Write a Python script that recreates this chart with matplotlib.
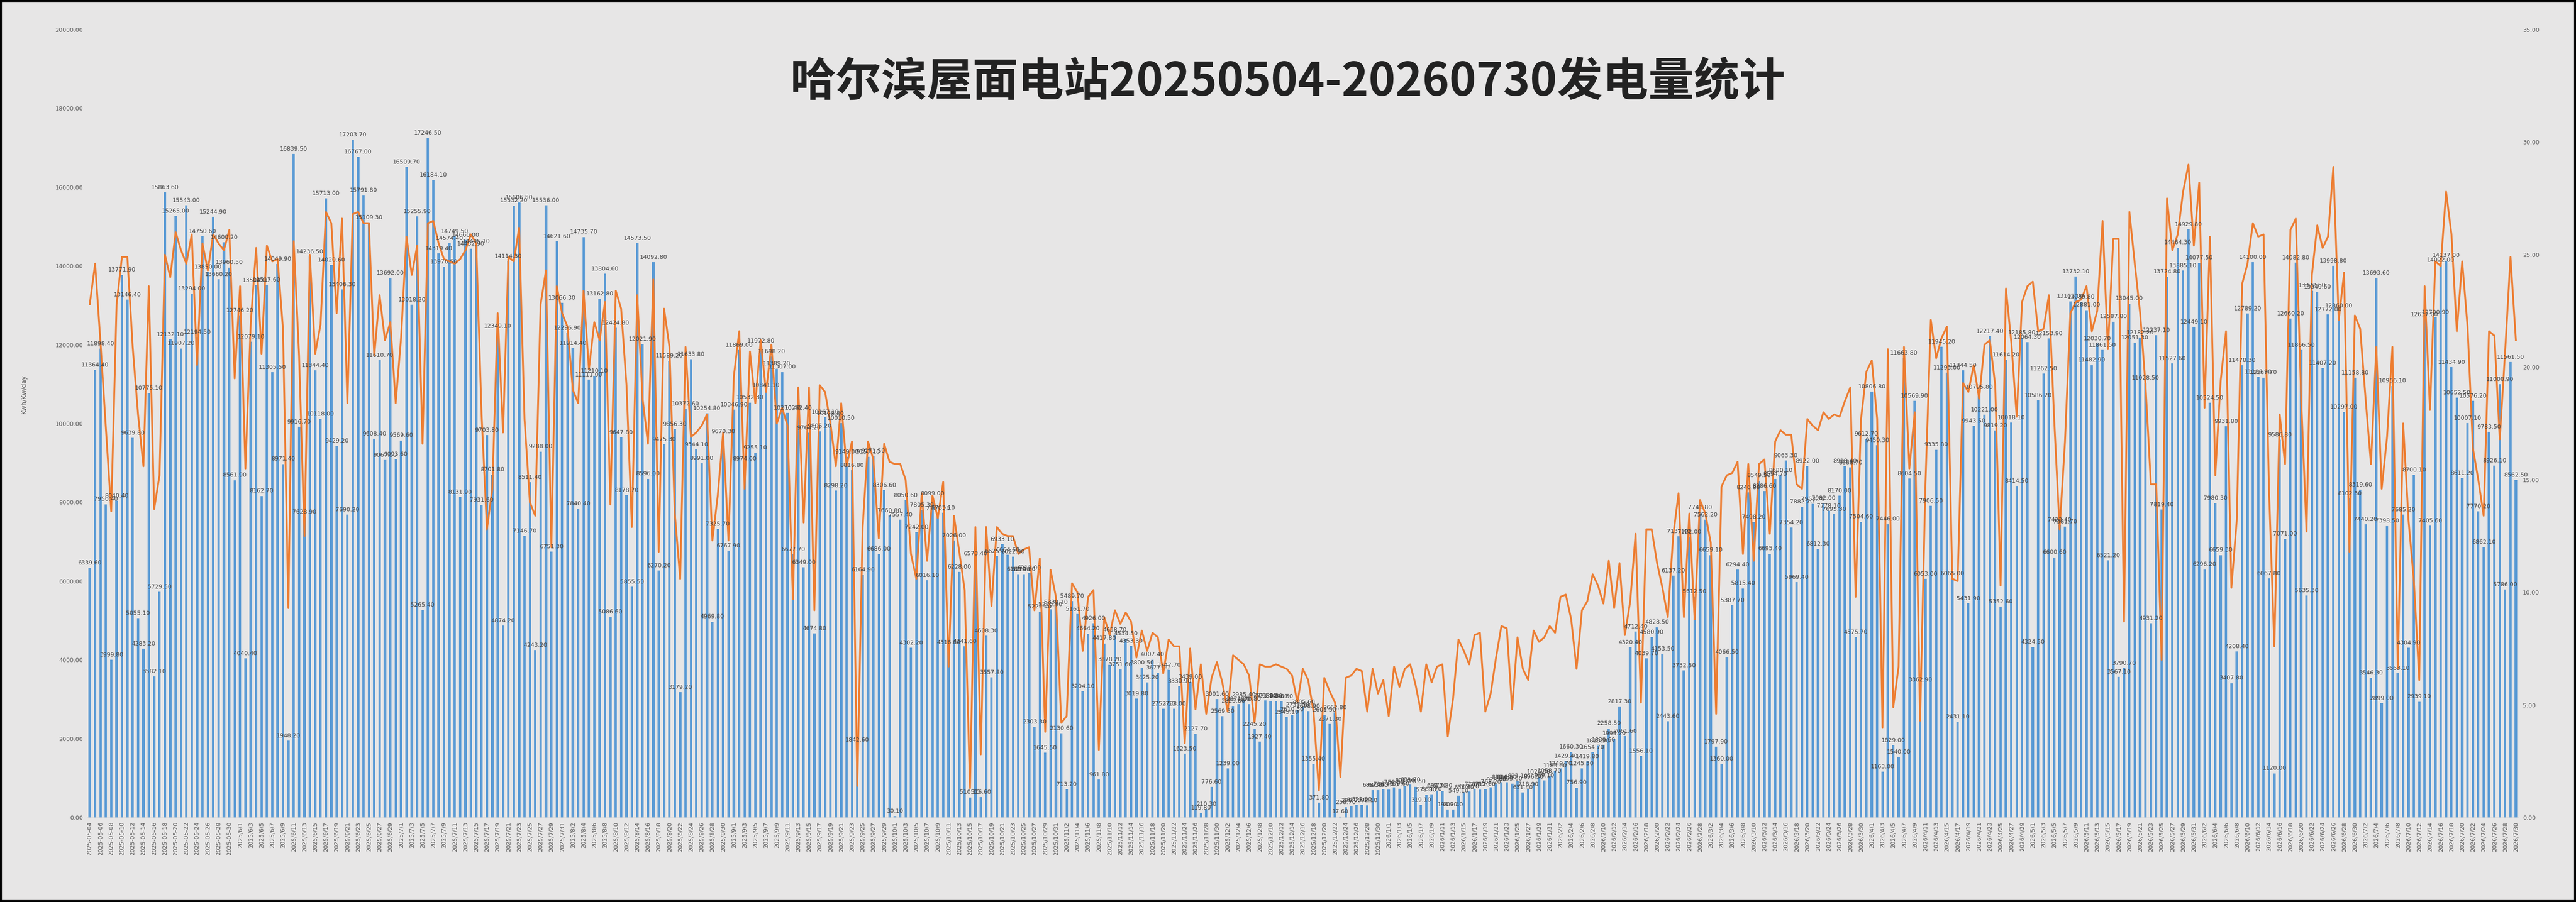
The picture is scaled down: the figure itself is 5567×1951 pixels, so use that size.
import matplotlib
matplotlib.use("Agg")
import matplotlib.pyplot as plt
import pandas as pd
from matplotlib.patches import Rectangle

plt.rcParams["font.family"] = ["DejaVu Sans"]

TITLE = "哈尔滨屋面电站20250504-20260730发电量统计"
Y_LABEL = "Kwh/Kw/day"
START_DATE = "2025-05-04"

# daily generation (bars, left axis)
kwh = [
    6339.6, 11364.4, 11898.4, 7950.4, 3999.8, 8040.4, 13771.9, 13146.4, 9639.8, 5055.1,
    4283.2, 10775.1, 3582.1, 5729.5, 15863.6, 12132.1, 15265.0, 11907.2, 15543.0, 13294.0,
    12194.5, 14750.6, 13850.0, 15244.9, 13660.2, 14600.2, 13960.5, 8561.9, 12746.2, 4040.4,
    12079.1, 13504.0, 8162.7, 13517.6, 11305.5, 14049.9, 8971.4, 1948.2, 16839.5, 9916.7,
    7628.9, 14236.5, 11344.4, 10118.0, 15713.0, 14020.6, 9429.2, 13406.3, 7690.2, 17203.7,
    16767.0, 15791.8, 15109.3, 9608.4, 11610.7, 9067.5, 13692.0, 9093.6, 9569.6, 16509.7,
    13018.2, 15255.9, 5265.4, 17246.5, 16184.1, 14319.4, 13976.5, 14574.4, 14749.5, 8131.9,
    14660.0, 14432.9, 14495.1, 7931.6, 9703.8, 8701.8, 12349.1, 4874.2, 14114.3, 15532.2,
    15606.5, 7146.7, 8511.4, 4243.2, 9288.0, 15536.0, 6751.3, 14621.6, 13066.3, 12296.9,
    11914.4, 7840.4, 14735.7, 11111.0, 11210.1, 13162.8, 13804.6, 5086.6, 12424.8, 9647.8,
    8178.7, 5855.5, 14573.5, 12021.9, 8596.0, 14092.8, 6270.2, 9475.3, 11589.2, 9856.3,
    3179.2, 10372.6, 11633.8, 9344.1, 8991.0, 10254.8, 4969.8, 7325.7, 9670.3, 6767.9,
    10346.9, 11869.0, 8974.0, 10532.3, 9255.1, 11972.8, 10841.1, 11698.2, 11389.2, 11307.0,
    10270.4, 6677.7, 10262.4, 6349.0, 9764.2, 4674.8, 9805.2, 10167.1, 10128.8, 8298.2,
    10010.5, 9149.0, 8816.8, 1842.6, 6164.9, 9157.1, 9171.5, 6686.0, 8306.6, 7660.8,
    30.1, 7557.4, 8050.6, 4302.2, 7242.0, 7805.3, 6016.1, 8099.0, 7705.2, 7735.1,
    4316.8, 7026.0, 6228.0, 4341.6, 510.1, 6573.4, 516.6, 4608.3, 3557.8, 6625.7,
    6933.1, 6664.6, 6622.9, 6168.4, 6170.6, 6211.0, 2303.3, 5222.4, 1645.5, 5275.9,
    5339.1, 2130.6, 713.2, 5489.7, 5161.7, 3204.1, 4664.2, 4926.0, 961.8, 4417.8,
    3878.2, 4638.7, 3751.6, 4534.5, 4353.3, 3019.8, 3800.5, 3425.2, 4007.4, 3677.0,
    2753.5, 3747.7, 2758.0, 3330.9, 1623.5, 3439.0, 2127.7, 119.8, 210.3, 776.6,
    3001.6, 2569.5, 1239.0, 2825.8, 2874.3, 2985.4, 2870.8, 2245.2, 1927.4, 2972.0,
    2958.3, 2942.0, 2946.6, 2545.1, 2610.3, 2737.5, 2805.6, 2698.9, 1355.4, 371.8,
    2601.5, 2371.3, 2662.8, 17.6, 258.7, 298.0, 320.6, 322.0, 302.1, 688.3,
    693.6, 716.4, 701.4, 758.2, 730.6, 803.5, 831.7, 779.6, 319.1, 571.8,
    589.7, 680.7, 673.8, 194.9, 202.4, 549.1, 633.4, 659.2, 718.0, 702.7,
    712.0, 768.2, 828.4, 888.0, 886.3, 855.6, 923.1, 631.4, 718.9, 896.3,
    1026.3, 939.1, 1058.7, 1183.0, 1240.7, 1429.4, 1660.3, 756.9, 1245.5, 1419.8,
    1654.7, 1813.9, 1839.6, 2258.5, 1999.2, 2817.3, 2061.6, 4320.4, 4712.4, 1556.1,
    4039.7, 4580.9, 4828.5, 4153.5, 2443.6, 6137.2, 7137.4, 3732.5, 7122.0, 5612.5,
    7741.8, 7562.2, 6659.1, 1797.9, 1360.0, 4066.5, 5387.7, 6294.4, 5815.4, 8246.8,
    7498.2, 8549.5, 8286.6, 6695.4, 8594.7, 8680.1, 9063.3, 7354.2, 5969.4, 7882.7,
    8922.0, 7953.7, 6812.3, 7982.0, 7778.1, 7695.3, 8170.0, 8918.4, 8888.7, 4575.7,
    7504.6, 9612.7, 10806.8, 9450.3, 1163.0, 7446.0, 1829.0, 1540.0, 11663.8, 8604.5,
    10569.9, 3362.9, 6053.0, 7906.5, 9335.8, 11945.2, 11293.0, 6065.0, 2431.1, 11344.5,
    5431.9, 9943.5, 10795.8, 10221.0, 12217.4, 9819.2, 5352.6, 11614.2, 10018.1, 8414.5,
    12185.8, 12064.3, 4324.5, 10586.2, 11262.5, 12153.9, 6600.6, 7423.4, 7381.7, 13103.0,
    13732.1, 13089.8, 12881.0, 11482.9, 12030.7, 11861.5, 6521.2, 12587.8, 3567.1, 3790.7,
    13045.0, 12051.3, 12182.2, 11028.5, 4931.2, 12237.1, 7819.4, 13724.8, 11527.6, 14464.3,
    13885.1, 14929.8, 12449.1, 14077.5, 6296.2, 10524.5, 7980.3, 6659.3, 9931.8, 3407.8,
    4208.4, 11478.3, 12789.2, 14100.0, 11186.9, 11167.7, 6067.8, 1120.0, 9586.8, 7071.0,
    12660.2, 14082.8, 11866.5, 5635.3, 13372.6, 13340.6, 11407.2, 12772.0, 13998.8, 12860.0,
    10297.0, 8102.3, 11158.8, 8319.6, 7440.2, 3546.3, 13693.6, 2899.0, 7398.5, 10956.1,
    3663.1, 7685.2, 4304.9, 8700.1, 2939.1, 12637.0, 7405.6, 12700.9, 14022.0, 14137.0,
    11434.9, 10652.5, 8611.2, 10007.1, 10576.2, 7770.2, 6862.1, 9783.5, 8926.1, 11000.9,
    5786.0, 11561.5, 8562.5,
]

# second series (line, right axis)
line_vals = [
    22.8, 24.6, 21.1, 17.3, 13.6, 22.8, 24.9, 24.9, 20.9, 17.9,
    15.6, 23.6, 13.7, 15.2, 25.0, 24.0, 26.0, 25.2, 24.6, 25.9,
    20.1, 25.5, 24.3, 25.9, 25.5, 25.2, 26.1, 19.5, 23.6, 15.5,
    22.0, 25.3, 20.6, 25.4, 24.7, 24.8, 21.7, 9.3, 25.6, 20.5,
    12.5, 25.0, 20.6, 21.9, 26.9, 26.4, 22.4, 26.6, 18.4, 26.8,
    26.9, 26.4, 26.4, 20.5, 23.2, 21.2, 22.0, 18.4, 21.3, 25.8,
    24.1, 25.4, 16.6, 26.4, 26.5, 25.5, 24.8, 24.7, 24.6, 24.8,
    25.2, 25.9, 25.5, 17.9, 12.8, 14.6, 22.4, 17.1, 24.9, 24.7,
    26.2, 17.7, 14.0, 13.4, 22.8, 24.3, 12.0, 23.6, 22.4, 21.8,
    19.0, 18.4, 23.4, 19.9, 22.0, 21.2, 22.9, 13.9, 23.4, 22.6,
    19.2, 12.9, 23.2, 18.6, 16.6, 23.9, 11.8, 22.6, 20.9, 13.5,
    10.6, 20.9, 16.9, 17.1, 17.4, 17.9, 12.3, 14.3, 17.1, 12.3,
    19.6, 21.6, 14.6, 20.7, 18.4, 21.2, 18.9, 21.0, 17.5, 18.2,
    17.4, 9.7, 19.1, 13.1, 19.1, 9.2, 19.2, 18.9, 17.5, 15.6,
    18.4, 15.6, 16.7, 1.4, 12.9, 16.7, 15.9, 12.4, 16.6, 15.8,
    15.7, 15.7, 15.0, 11.7, 10.6, 14.4, 11.4, 14.3, 13.3, 14.9,
    6.7, 13.4, 11.8, 10.1, 1.3, 12.9, 2.8, 12.9, 9.4, 12.9,
    12.6, 12.5, 12.5, 11.7, 11.9, 12.0, 9.2, 11.5, 3.8, 11.0,
    9.8, 4.2, 4.5, 10.4, 10.0, 7.4, 9.8, 10.1, 3.0, 8.9,
    8.1, 9.2, 8.6, 9.1, 8.7, 7.1, 8.3, 7.4, 8.2, 8.0,
    6.4, 7.9, 7.6, 7.6, 3.3, 7.5, 4.8, 6.8, 4.6, 6.2,
    6.9, 6.0, 4.7, 7.2, 7.0, 6.8, 6.3, 4.2, 6.8, 6.7,
    6.7, 6.8, 6.7, 6.6, 6.3, 5.1, 6.6, 6.1, 4.7, 1.2,
    6.2, 5.6, 5.1, 1.8, 6.2, 6.3, 6.6, 6.5, 4.7, 6.6,
    5.5, 6.1, 4.5, 6.7, 5.8, 6.6, 6.8, 5.9, 4.7, 6.8,
    6.0, 6.7, 6.8, 3.6, 5.3, 7.9, 7.4, 6.8, 8.1, 8.2,
    4.7, 5.5, 7.1, 8.5, 8.4, 4.8, 8.0, 6.6, 6.1, 8.3,
    7.8, 8.0, 8.5, 8.2, 9.8, 9.9, 8.8, 6.6, 9.2, 9.6,
    10.8, 10.3, 9.5, 11.4, 9.3, 11.3, 8.1, 9.6, 12.6, 5.1,
    12.8, 12.8, 11.3, 10.2, 8.9, 12.5, 14.4, 8.9, 13.5, 8.8,
    14.1, 13.5, 12.2, 4.6, 14.7, 15.2, 15.3, 15.8, 11.7, 15.7,
    11.4, 15.7, 15.9, 12.6, 16.7, 17.2, 17.0, 17.0, 14.8, 14.6,
    17.7, 17.4, 17.2, 18.0, 17.7, 17.9, 17.8, 18.5, 19.1, 9.8,
    17.7, 19.8, 20.3, 17.7, 4.0, 20.8, 4.9, 6.7, 20.9, 15.5,
    18.0, 4.3, 14.8, 22.1, 20.4, 21.3, 21.8, 10.6, 10.5, 19.3,
    18.9, 20.1, 18.6, 21.0, 21.2, 19.2, 10.3, 23.5, 21.1, 17.8,
    22.9, 23.6, 23.8, 21.6, 21.7, 23.2, 17.6, 12.8, 16.7, 22.4,
    22.9, 23.0, 23.6, 21.6, 22.5, 26.5, 20.8, 25.7, 25.7, 8.7,
    26.9, 24.6, 22.4, 19.2, 14.8, 14.8, 7.0, 27.5, 25.2, 25.9,
    27.8, 29.0, 25.4, 28.2, 18.2, 25.8, 15.2, 19.4, 21.6, 10.2,
    13.2, 23.7, 24.6, 26.4, 25.8, 25.9, 14.6, 7.6, 17.9, 15.7,
    26.1, 26.6, 18.6, 12.7, 24.1, 26.3, 25.3, 25.8, 28.9, 22.1,
    24.2, 11.8, 22.3, 21.7, 18.6, 15.7, 20.9, 14.6, 16.9, 20.9,
    6.6, 17.5, 13.2, 10.5, 6.1, 23.6, 18.1, 24.7, 24.5, 27.8,
    25.9, 21.6, 24.7, 21.8, 16.4, 15.0, 13.4, 21.6, 21.4, 16.8,
    20.7, 24.9, 21.2,
]

assert len(kwh) == len(line_vals) == 453, (len(kwh), len(line_vals))

dates = pd.date_range(START_DATE, periods=len(kwh), freq="D")
date_labels = [d.strftime("%Y-%m-%d") if (d.year == 2025 and d.month == 5)
               else f"{d.year}/{d.month}/{d.day}" for d in dates]

BG = "#E7E6E6"
BLUE = "#5B9BD5"
ORANGE = "#ED7D31"
GREY = "#595959"

fig = plt.figure(figsize=(55.67, 19.51), dpi=100, facecolor=BG)
ax = fig.add_axes([0.0338, 0.0938, 0.9439, 0.8734], facecolor=BG)
x = list(range(len(kwh)))

ax.bar(x, kwh, width=0.45, color=BLUE, zorder=2)
ax.set_xlim(-0.5, len(kwh) - 0.5)
ax.set_ylim(0, 20000)
ax.set_yticks(range(0, 20001, 2000))
ax.set_yticklabels([f"{v:.2f}" for v in range(0, 20001, 2000)])
ax.set_xticks(x[::2])
ax.set_xticklabels(date_labels[::2], rotation=90)
ax.tick_params(axis="both", length=0, labelsize=9, labelcolor=GREY)
ax.tick_params(axis="y", pad=6.5)
ax.tick_params(axis="x", pad=7)
for side in ("top", "left", "right"):
    ax.spines[side].set_visible(False)
ax.spines["bottom"].set_color("#D9D9D9")

ax2 = ax.twinx()
ax2.plot(x, line_vals, color=ORANGE, linewidth=2.8, solid_joinstyle="round", zorder=3)
ax2.set_ylim(0, 35)
ax2.set_yticks(range(0, 36, 5))
ax2.set_yticklabels([f"{v:.2f}" for v in range(0, 36, 5)])
ax2.tick_params(axis="y", length=0, labelsize=9, labelcolor=GREY, pad=6.5)
for side in ("top", "left", "right", "bottom"):
    ax2.spines[side].set_visible(False)

# value labels drawn over the line, like the spreadsheet does
for i, v in enumerate(kwh):
    ax2.annotate(f"{v:.2f}", xy=(i, v), xycoords=ax.transData, xytext=(0, 3),
                 textcoords="offset points", ha="center", va="bottom",
                 fontsize=9, color="#404040", zorder=4)

fig.text(0.5, 0.909, TITLE, ha="center", va="center", fontsize=71, fontweight="bold",
         color="#222222", family=["Noto Sans CJK SC", "DejaVu Sans"])
fig.text(0.0092, 0.563, Y_LABEL, rotation=90, ha="center", va="center",
         fontsize=10, color=GREY)

fig.patches.append(Rectangle((0, 0), 1, 1, transform=fig.transFigure, fill=False,
                             edgecolor="black", linewidth=6))

fig.savefig("out.png", dpi=100, facecolor=BG)
